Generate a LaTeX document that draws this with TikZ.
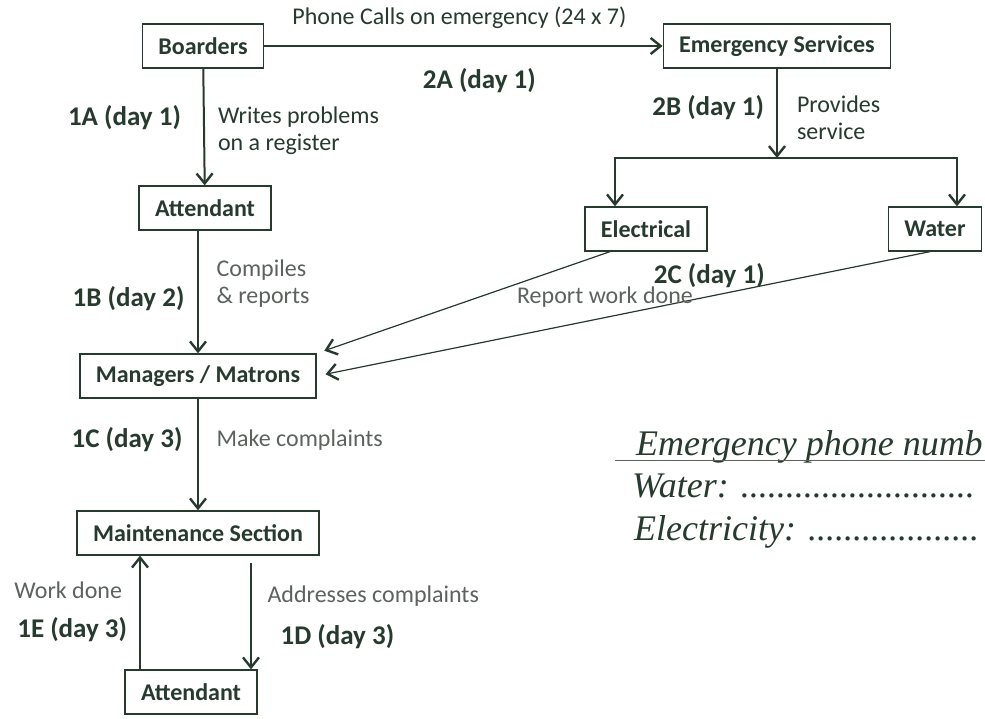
\documentclass[tikz,border=0pt]{standalone}
\usepackage{fontspec}
\setmainfont{Carlito}
\newfontfamily\handfont{Liberation Serif}
\usepackage{tikz}
\usetikzlibrary{arrows.meta}
\usetikzlibrary{positioning}
\definecolor{ink}{RGB}{38,58,46}
\definecolor{faintink}{RGB}{92,98,94}

\begin{document}
\begin{tikzpicture}[x=1pt, y=-1pt,
    >={Straight Barb[length=10pt,width=16pt,line width=2.4pt]},
    box/.style={on grid, draw=ink, line width=1.3pt, text=ink, minimum height=44pt, inner xsep=16pt, font=\bfseries\fontsize{24}{28}\selectfont},
    day/.style={text=ink, inner sep=0pt, font=\bfseries\fontsize{27}{30}\selectfont},
    note/.style={text=ink, inner sep=0pt, align=left, font=\fontsize{24}{27}\selectfont},
    faint/.style={note, text=faintink},
    heavy/.style={draw=ink, line width=2pt, ->},
    light/.style={draw=ink, line width=1.2pt, ->},
    hand/.style={text=ink, inner sep=0pt, anchor=base west, font=\handfont\itshape\fontsize{36}{40}\selectfont}]
    \clip (0,0) rectangle (985,719);
    \fill[white] (0,0) rectangle (985,719);

    % left column
    \node[box] (Boarders) at (203,46) {Boarders};
    \node[box, below=162pt of Boarders, xshift=2pt] (Attendant) {Attendant};
    \node[box, below=168pt of Attendant, xshift=-7pt] (Managers) {Managers / Matrons};
    \node[box, below=157pt of Managers] (Maintenance) {Maintenance Section};
    \node[box, below=159pt of Maintenance, xshift=-7pt] (Worker) {Attendant};

    % emergency branch
    \node[box, right=574pt of Boarders] (Emergency) {Emergency Services};
    \node[box, below=183pt of Emergency, xshift=-131pt] (Electrical) {Electrical};
    \node[box, right=289pt of Electrical] (Water) {Water};
    \coordinate (split) at (Emergency.south |- 0,158);

    \draw[heavy] (Boarders) -- node[pos=0.42, left=22pt, day] {1A (day 1)}
        node[pos=0.53, right=13pt, note] {Writes problems\\on a register} (Attendant);
    \draw[light] (Attendant.south -| Managers.north) -- node[pos=0.55, left=13pt, day] {1B (day 2)}
        node[pos=0.43, right=18pt, faint] {Compiles\\\& reports} (Managers.north);
    \draw[light] (Managers) -- node[pos=0.37, left=15pt, day] {1C (day 3)}
        node[pos=0.37, right=18pt, faint] {Make complaints} (Maintenance);
    \draw[heavy] ([xshift=-51pt]Worker.north) -- node[pos=0.70, left=17pt, faint] {Work done}
        node[pos=0.35, left=12pt, day] {1E (day 3)} ([xshift=-51pt]Worker.north |- Maintenance.south);
    \draw[light] ([xshift=60pt,yshift=-7pt]Worker.north |- Maintenance.south) -- node[pos=0.31, right=16pt, faint] {Addresses complaints}
        node[pos=0.69, right=29pt, day] {1D (day 3)} ([xshift=60pt]Worker.north);

    \draw[heavy] (Boarders) -- node[pos=0.49, above=16pt, note] {Phone Calls on emergency (24 x 7)}
        node[pos=0.54, below=21pt, day] {2A (day 1)} (Emergency);
    \draw[heavy] (Emergency) -- node[pos=0.44, left=12pt, day] {2B (day 1)}
        node[pos=0.55, right=19pt, note] {Provides\\service} (split);
    \draw[heavy] (split) -| ([xshift=-31pt]Electrical.north);
    \draw[heavy] (split) -| ([xshift=22pt]Water.north);
    \draw[light, shorten >=8pt] ([xshift=-36pt]Electrical.south) -- (Managers.north east);
    \draw[light, shorten >=9pt] ([xshift=-5pt]Water.south) -- node[pos=0.36, above=8pt, day] {2C (day 1)}
        node[pos=0.53, above=10pt, faint] {Report work done} (Managers.east);

    % phone numbers
    \node[hand] (NumbersHead) at (636,455) {Emergency phone numb};
    \draw[faintink, line width=1pt] ([xshift=-21pt,yshift=-5pt]NumbersHead.base west) -- ++(370,0);
    \node[hand] (WaterNo) at (632,497) {Water: ..........................};
    \node[hand] (PowerNo) at (634,540) {Electricity: ...................};
\end{tikzpicture}
\end{document}
